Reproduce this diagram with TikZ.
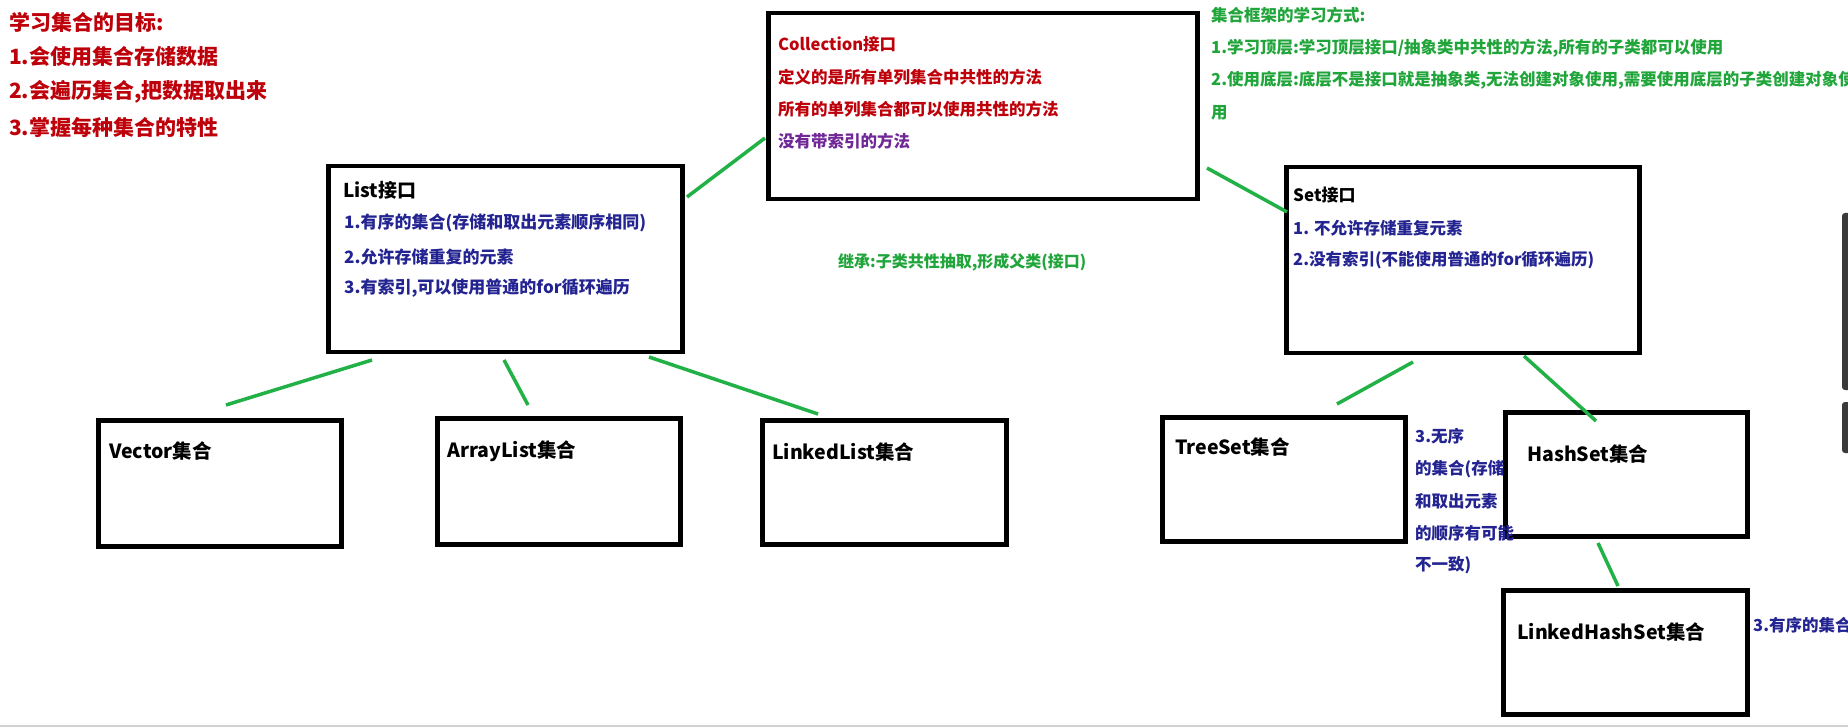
\documentclass[tikz,border=0pt]{standalone}
\usepackage{fontspec}
\setmainfont{Noto Sans CJK SC}
\definecolor{redt}{RGB}{190,0,10}
\definecolor{purp}{RGB}{112,40,150}
\definecolor{bluet}{RGB}{35,35,145}
\definecolor{greent}{RGB}{32,165,58}
\definecolor{lineg}{RGB}{34,177,70}
\definecolor{bar}{RGB}{58,58,58}
\tikzset{
  box/.style={draw=black, line width=4.5pt, inner sep=0pt, anchor=north west},
  conn/.style={draw=lineg, line width=3.5pt},
  txt/.style={inner sep=0pt, anchor=west, font=\bfseries\fontsize{16.5}{20}\selectfont},
  big/.style={txt, font=\bfseries\fontsize{21}{25}\selectfont},
  leaf/.style={txt, font=\bfseries\fontsize{19.5}{23}\selectfont},
}
\begin{document}
\begin{tikzpicture}[x=1pt,y=-1pt]
\useasboundingbox[fill=white] (0,0) rectangle (1848,727);
% scrollbar pieces and bottom edge
\fill[bar, rounded corners=3pt] (1842,213) rectangle (1856,390);
\fill[bar, rounded corners=3pt] (1842,402) rectangle (1856,453);
\draw[gray!35, line width=2pt] (0,726) -- (1848,726);

% boxes
\node[box, minimum width=429pt, minimum height=186pt] (coll) at (766,11) {};
\node[box, minimum width=354pt, minimum height=186pt] (list) at (326,164) {};
\node[box, minimum width=353pt, minimum height=186pt] (set) at (1284,165) {};
\node[box, minimum width=243pt, minimum height=126pt] (vector) at (96,418) {};
\node[box, minimum width=243pt, minimum height=126pt] (arraylist) at (435,416) {};
\node[box, minimum width=244pt, minimum height=124pt] (linkedlist) at (760,418) {};
\node[box, minimum width=243pt, minimum height=124pt] (treeset) at (1160,415) {};
\node[box, minimum width=242pt, minimum height=124pt] (hashset) at (1503,410) {};
\node[box, minimum width=244pt, minimum height=124pt] (lhs) at (1501,588) {};

% connector end points
\coordinate (c1a) at (687,197); \coordinate (c1b) at (765,138);
\coordinate (c2a) at (1207,168); \coordinate (c2b) at (1287,212);
\coordinate (c3a) at (372,360); \coordinate (c3b) at (226,405);
\coordinate (c4a) at (504,360); \coordinate (c4b) at (528,405);
\coordinate (c5a) at (649,357); \coordinate (c5b) at (818,414);
\coordinate (c6a) at (1413,362); \coordinate (c6b) at (1337,404);
\coordinate (c7a) at (1524,356); \coordinate (c7b) at (1596,421);
\coordinate (c8a) at (1598,543); \coordinate (c8b) at (1618,586);
\draw[conn] (c1a) -- (c1b);
\draw[conn] (c2a) -- (c2b);
\draw[conn] (c3a) -- (c3b);
\draw[conn] (c4a) -- (c4b);
\draw[conn] (c5a) -- (c5b);
\draw[conn] (c6a) -- (c6b);
\draw[conn] (c7a) -- (c7b);
\draw[conn] (c8a) -- (c8b);

% top-left goals
\node[big, text=redt] (g0) at (9,22) {学习集合的目标:};
\node[big, text=redt] (g1) at (9,57) {1.会使用集合存储数据};
\node[big, text=redt] (g2) at (9,92) {2.会遍历集合,把数据取出来};
\node[big, text=redt] (g3) at (9,127) {3.掌握每种集合的特性};

% Collection
\node[txt, text=redt] (ct0) at (778,44) {Collection接口};
\node[txt, text=redt] (ct1) at (778,77) {定义的是所有单列集合中共性的方法};
\node[txt, text=redt] (ct2) at (778,109) {所有的单列集合都可以使用共性的方法};
\node[txt, text=purp] (ct3) at (778,141) {没有带索引的方法};

% top-right green notes
\node[txt, text=greent] (n0) at (1211,15) {集合框架的学习方式:};
\node[txt, text=greent] (n1) at (1211,48) {1.学习顶层:学习顶层接口/抽象类中共性的方法,所有的子类都可以使用};
\node[txt, text=greent] (n2) at (1211,80) {2.使用底层:底层不是接口就是抽象类,无法创建对象使用,需要使用底层的子类创建对象使};
\node[txt, text=greent] (n3) at (1211,113) {用};

% List
\node[txt, font=\bfseries\fontsize{19}{23}\selectfont] (lt0) at (343,190) {List接口};
\node[txt, text=bluet, font=\bfseries\fontsize{17}{20}\selectfont] (lt1) at (344,223) {1.有序的集合(存储和取出元素顺序相同)};
\node[txt, text=bluet, font=\bfseries\fontsize{17}{20}\selectfont] (lt2) at (344,257) {2.允许存储重复的元素};
\node[txt, text=bluet, font=\bfseries\fontsize{17}{20}\selectfont] (lt3) at (344,288) {3.有索引,可以使用普通的for循环遍历};

% Set
\node[txt, font=\bfseries\fontsize{17}{20}\selectfont] (st0) at (1293,195) {Set接口};
\node[txt, text=bluet] (st1) at (1293,228) {1. 不允许存储重复元素};
\node[txt, text=bluet] (st2) at (1293,260) {2.没有索引(不能使用普通的for循环遍历)};

% middle green note
\node[txt, text=greent, font=\bfseries\fontsize{16}{19}\selectfont] (inh) at (838,262) {继承:子类共性抽取,形成父类(接口)};

% leaf labels
\node[leaf] (vt) at (109,451) {Vector集合};
\node[leaf] (at) at (447,451) {ArrayList集合};
\node[leaf] (llt) at (772,452) {LinkedList集合};
\node[leaf] (tt) at (1175,447) {TreeSet集合};
\node[leaf] (ht) at (1527,454) {HashSet集合};
\node[leaf] (lht) at (1517,632) {LinkedHashSet集合};

% side notes
\node[txt, text=bluet] (u0) at (1415,436) {3.无序};
\node[txt, text=bluet] (u1) at (1415,469) {的集合(存储};
\node[txt, text=bluet] (u2) at (1415,501) {和取出元素};
\node[txt, text=bluet] (u3) at (1415,533) {的顺序有可能};
\node[txt, text=bluet] (u4) at (1415,565) {不一致)};
\node[txt, text=bluet] (o0) at (1753,625) {3.有序的集合};
\end{tikzpicture}
\end{document}
